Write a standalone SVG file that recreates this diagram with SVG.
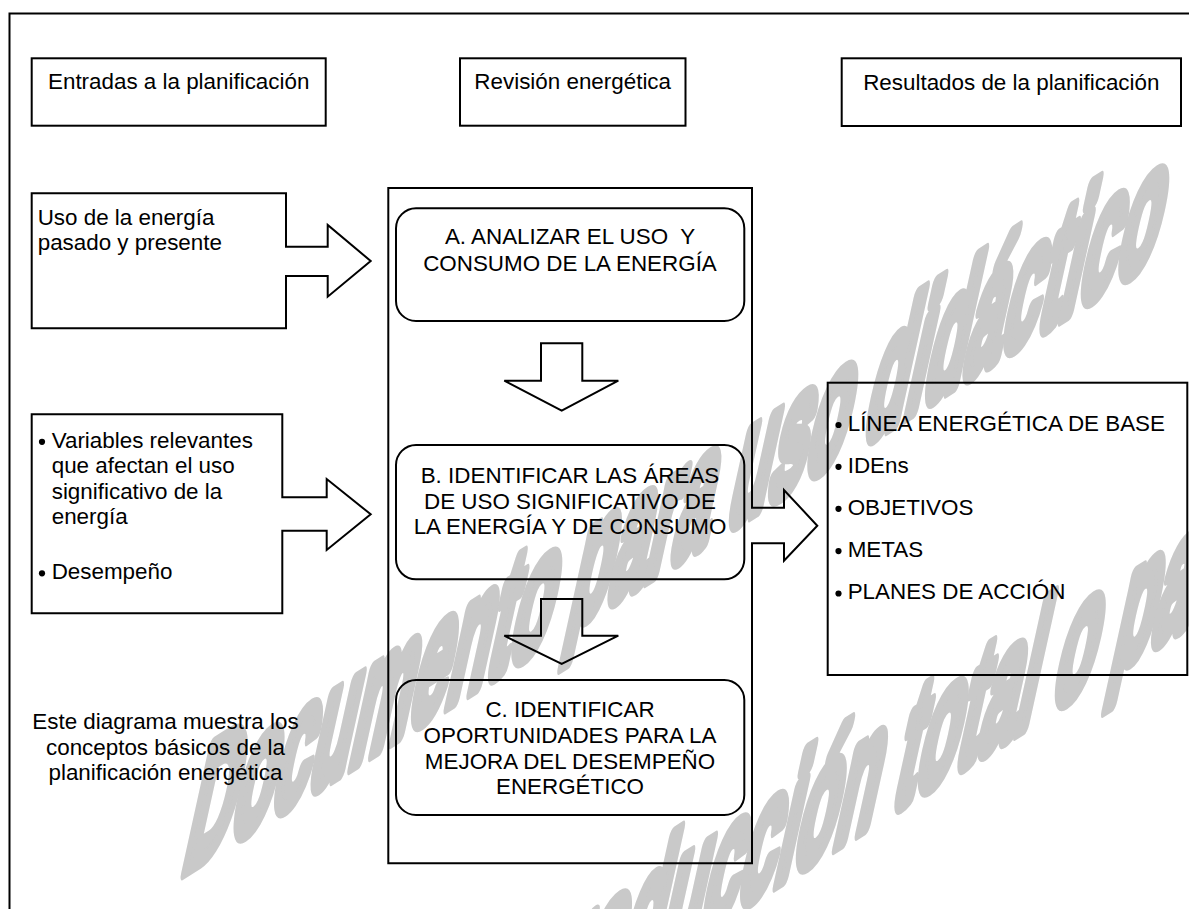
<svg xmlns="http://www.w3.org/2000/svg" width="1189" height="909" viewBox="0 0 1189 909">
<style>
.ln{fill:none;stroke:#000;stroke-width:2;stroke-linejoin:miter}
.t{font-family:"Liberation Sans",Arial,sans-serif;font-size:22.4px;fill:#000}
.c{text-anchor:middle}
.wm{font-family:"Liberation Sans",Arial,sans-serif;font-weight:bold;font-size:182px;fill:#c9c9c9;stroke:#c9c9c9;stroke-width:18;stroke-linejoin:round}
.b{fill:#000}
</style>
<rect width="1189" height="909" fill="#fff"/>
<g id="watermark">
<text class="wm" transform="matrix(0.366,-0.231,-0.22,1,180,874)">Documento para uso didáctico</text>
<text class="wm" transform="matrix(0.366,-0.231,-0.22,1,446,1092)">reproducción total o pa</text>
</g>
<g id="frame"><path class="ln" d="M9.5,909 V13.5 H1189" stroke-width="2.4"/></g>
<g id="header-entradas">
<rect class="ln" x="31.7" y="58.3" width="294" height="67.4"/>
<text class="t c" x="178.7" y="89.3">Entradas a la planificación</text>
</g>
<g id="header-revision">
<rect class="ln" x="460" y="58.3" width="225.5" height="67.4"/>
<text class="t c" x="572.7" y="89.3">Revisión energética</text>
</g>
<g id="header-resultados">
<rect class="ln" x="841.7" y="58.3" width="339.3" height="67.7"/>
<text class="t c" x="1011.3" y="90">Resultados de la planificación</text>
</g>
<g id="input-uso">
<path class="ln" d="M31.7,193.3 H286 V246.7 H327.7 V225 L370.7,261 L327.7,296.7 V276 H286 V328.3 H31.7 Z"/>
<text class="t" x="37.7" y="225">Uso de la energía</text>
<text class="t" x="37.7" y="250">pasado y presente</text>
</g>
<g id="input-variables">
<path class="ln" d="M31.7,414.3 H282.3 V497.3 H326.7 V479 L370.7,514.3 L326.7,550 V530.7 H282.3 V613.3 H31.7 Z"/>
<circle class="b" cx="42" cy="441.8" r="3.1"/>
<text class="t" x="51.7" y="447.5">Variables relevantes</text>
<text class="t" x="51.7" y="473">que afectan el uso</text>
<text class="t" x="51.7" y="498.5">significativo de la</text>
<text class="t" x="51.7" y="523.8">energía</text>
<circle class="b" cx="42" cy="573.3" r="3.1"/>
<text class="t" x="51.7" y="579">Desempeño</text>
</g>
<g id="note">
<text class="t c" x="165.5" y="729.3">Este diagrama muestra los</text>
<text class="t c" x="165.5" y="755">conceptos básicos de la</text>
<text class="t c" x="165.5" y="780">planificación energética</text>
</g>
<g id="revision-container">
<path class="ln" d="M388.3,188 H752 V507.7 H784 V490 L817.3,525.7 L784,560.7 V543.3 H752 V863.3 H388.3 Z"/>
</g>
<g id="step-a">
<rect class="ln" x="396" y="208.3" width="348.3" height="112.7" rx="20" ry="20"/>
<text class="t c" x="570" y="244.3" xml:space="preserve">A. ANALIZAR EL USO  Y</text>
<text class="t c" x="570" y="271">CONSUMO DE LA ENERGÍA</text>
</g>
<g id="step-b">
<rect class="ln" x="396" y="445" width="348.3" height="134.3" rx="20" ry="20"/>
<text class="t c" x="570" y="482.7">B. IDENTIFICAR LAS ÁREAS</text>
<text class="t c" x="570" y="508.5">DE USO SIGNIFICATIVO DE</text>
<text class="t c" x="570" y="534.3">LA ENERGÍA Y DE CONSUMO</text>
</g>
<g id="step-c">
<rect class="ln" x="396" y="680" width="348.3" height="135" rx="20" ry="20"/>
<text class="t c" x="570" y="717.3">C. IDENTIFICAR</text>
<text class="t c" x="570" y="743.3">OPORTUNIDADES PARA LA</text>
<text class="t c" x="570" y="769">MEJORA DEL DESEMPEÑO</text>
<text class="t c" x="570" y="794.3">ENERGÉTICO</text>
</g>
<g id="results">
<rect class="ln" x="827.7" y="382.7" width="359.6" height="292.3"/>
<circle class="b" cx="838.5" cy="425" r="3.1"/>
<text class="t" x="847.7" y="430.7">LÍNEA ENERGÉTICA DE BASE</text>
<circle class="b" cx="838.5" cy="466.8" r="3.1"/>
<text class="t" x="847.7" y="472.5">IDEns</text>
<circle class="b" cx="838.5" cy="508.8" r="3.1"/>
<text class="t" x="847.7" y="514.5">OBJETIVOS</text>
<circle class="b" cx="838.5" cy="551.1" r="3.1"/>
<text class="t" x="847.7" y="556.8">METAS</text>
<circle class="b" cx="838.5" cy="593.5" r="3.1"/>
<text class="t" x="847.7" y="599.2">PLANES DE ACCIÓN</text>
</g>
<g id="connectors">
<path class="ln" d="M541,343.3 H582.3 V380.7 H618.3 L561.7,410.7 L504.3,380.7 H541 Z"/>
<path class="ln" d="M541,599 H582.3 V635.7 H618.3 L561.7,664 L504.3,635.7 H541 Z"/>
</g>
</svg>
